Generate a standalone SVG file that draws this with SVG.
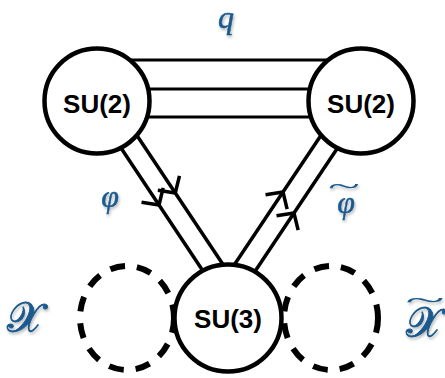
<svg xmlns="http://www.w3.org/2000/svg" width="445" height="378" viewBox="0 0 445 378">
<style>
.edge{fill:none;stroke:#000;stroke-width:3.5}
.hedge{fill:none;stroke:#000;stroke-width:3.2}
.dash{fill:none;stroke:#000;stroke-width:6;stroke-dasharray:15 12}
.node{fill:#fff;stroke:#000;stroke-width:4.5}
.nlabel{font-family:"Liberation Sans",Arial,sans-serif;font-weight:bold;font-size:26px;fill:#000;text-anchor:middle}
.mlabel{font-family:"Liberation Serif","DejaVu Serif",serif;font-style:italic;font-size:32px;fill:#1c5a8e;stroke:#1c5a8e;stroke-width:0.5;text-anchor:middle}
.script{font-family:"DejaVu Serif","Liberation Serif",serif;font-size:42px;fill:#1c5a8e;stroke:#1c5a8e;stroke-width:0.9;text-anchor:middle}
.tilde{font-family:"Liberation Serif","DejaVu Serif",serif;font-size:28px;fill:#1c5a8e;text-anchor:middle}
</style>
<defs>
<marker id="chev" markerUnits="userSpaceOnUse" markerWidth="40" markerHeight="40" viewBox="-20 -20 40 40" refX="0" refY="0" orient="auto" overflow="visible">
<path d="M-12,-13 L0,0 L-12,13" fill="none" stroke="#000" stroke-width="3.5"/>
</marker>
<filter id="sh" x="-30%" y="-30%" width="160%" height="160%">
<feDropShadow dx="1" dy="2" stdDeviation="1.5" flood-color="#000" flood-opacity="0.3"/>
</filter>
</defs>
<rect width="445" height="378" fill="#fff"/>
<g id="loops">
<ellipse class="dash" cx="127" cy="318" rx="47" ry="52"/>
<ellipse class="dash" cx="331" cy="318" rx="47" ry="52"/>
</g>
<g id="connectors">
<line class="hedge" x1="100" y1="60" x2="360" y2="60"/>
<line class="hedge" x1="100" y1="89" x2="360" y2="89"/>
<line class="hedge" x1="100" y1="117" x2="360" y2="117"/>
<path class="edge" marker-mid="url(#chev)" d="M89.7,101 L159,205 L234.3,318"/>
<path class="edge" marker-mid="url(#chev)" d="M114,101 L175.3,193 L258.7,318"/>
<path class="edge" marker-mid="url(#chev)" d="M198.7,318 L283,192 L344,101"/>
<path class="edge" marker-mid="url(#chev)" d="M223.8,318 L294,213 L369,101"/>
</g>
<g id="su2-left">
<circle class="node" cx="97" cy="101" r="52.5"/>
<text class="nlabel" x="97" y="113">SU(2)</text>
</g>
<g id="su2-right">
<circle class="node" cx="361" cy="101" r="52.5"/>
<text class="nlabel" x="361" y="113">SU(2)</text>
</g>
<g id="su3">
<circle class="node" cx="228" cy="318" r="53.5"/>
<text class="nlabel" x="228" y="328">SU(3)</text>
</g>
<g id="labels" filter="url(#sh)">
<text class="mlabel" x="226" y="28" font-size="30">q</text>
<text class="mlabel" x="110" y="207">φ</text>
<text class="mlabel" x="346" y="213">φ</text>
<text class="tilde" transform="translate(344,195) scale(2.1,1)" x="0" y="0">~</text>
<text class="script" x="25" y="332">𝒳</text>
<text class="script" x="424" y="337">𝒳</text>
<text class="tilde" transform="translate(425,309) scale(2.6,1)" x="0" y="0">~</text>
</g>
</svg>
